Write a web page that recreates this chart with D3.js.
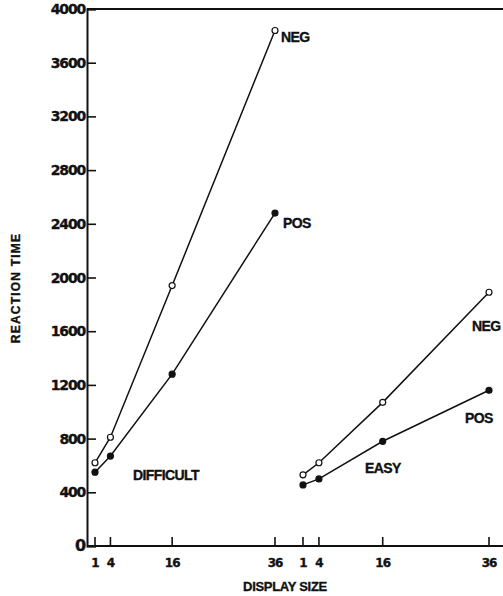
<!DOCTYPE html>
<html>
<head>
<meta charset="utf-8">
<script src="https://cdn.jsdelivr.net/npm/d3@7"></script>
<style>
  body { margin: 0; background: #fff; }
  text { fill: #111; font-weight: bold; stroke: #111; stroke-width: 0.35; }
</style>
</head>
<body>
<div id="chart"></div>
<script>
// display sizes (same for both groups)
const displaySizes = [1, 4, 16, 36];
const yTicks = [0, 400, 800, 1200, 1600, 2000, 2400, 2800, 3200, 3600, 4000];

// reaction times
const difficultNeg = [620, 810, 1940, 3840];
const difficultPos = [550, 670, 1280, 2480];
const easyNeg = [530, 620, 1070, 1890];
const easyPos = [455, 500, 780, 1160];

const width = 503, height = 596;
const plotLeft = 87, plotRight = 503, plotTop = 9, plotBottom = 546;

const svg = d3.select("#chart").append("svg")
    .attr("width", width)
    .attr("height", height);

const y = d3.scaleLinear().domain([0, 4000]).range([plotBottom, plotTop]);
const xDifficult = d3.scaleLinear().domain([1, 36]).range([95, 275]);
const xEasy = d3.scaleLinear().domain([1, 36]).range([303, 489]);

// frame: top line, left axis, bottom axis
svg.append("line")
    .attr("x1", plotLeft).attr("x2", plotRight)
    .attr("y1", plotTop).attr("y2", plotTop)
    .attr("stroke", "#111").attr("stroke-width", 2);

// y axis
const yAxis = svg.append("g")
    .attr("transform", "translate(" + plotLeft + ",0)")
    .call(d3.axisRight(y).tickValues(yTicks).tickSize(9).tickFormat(""));
yAxis.select(".domain").attr("stroke", "#111").attr("stroke-width", 2);
yAxis.selectAll(".tick line").attr("stroke", "#111").attr("stroke-width", 1.6);

svg.append("g").selectAll("text")
    .data(yTicks)
    .join("text")
    .attr("x", plotLeft - 2)
    .attr("y", d => y(d) + 5)
    .attr("text-anchor", "end")
    .attr("font-family", "DejaVu Sans")
    .attr("font-size", d => d === 0 ? 16 : 14)
    .attr("letter-spacing", -1.2)
    .text(d => d);

// x axis line
svg.append("line")
    .attr("x1", plotLeft).attr("x2", plotRight)
    .attr("y1", plotBottom).attr("y2", plotBottom)
    .attr("stroke", "#111").attr("stroke-width", 2);

function drawTicks(scale) {
    const g = svg.append("g");
    g.selectAll("line")
        .data(displaySizes)
        .join("line")
        .attr("x1", d => scale(d)).attr("x2", d => scale(d))
        .attr("y1", plotBottom).attr("y2", plotBottom - 9)
        .attr("stroke", "#111").attr("stroke-width", 1.6);
    g.selectAll("text")
        .data(displaySizes)
        .join("text")
        .attr("x", d => scale(d))
        .attr("y", plotBottom + 21)
        .attr("text-anchor", "middle")
        .attr("font-family", "DejaVu Sans")
        .attr("font-size", 12)
        .attr("letter-spacing", -1)
        .text(d => d);
}
drawTicks(xDifficult);
drawTicks(xEasy);

function drawSeries(scale, values, filled) {
    const pts = displaySizes.map((d, i) => [scale(d), y(values[i])]);
    svg.append("path")
        .attr("d", d3.line()(pts))
        .attr("fill", "none")
        .attr("stroke", "#111")
        .attr("stroke-width", 1.5);
    svg.append("g").selectAll("circle")
        .data(pts)
        .join("circle")
        .attr("cx", d => d[0])
        .attr("cy", d => d[1])
        .attr("r", 3)
        .attr("fill", filled ? "#111" : "#fff")
        .attr("stroke", "#111")
        .attr("stroke-width", 1.2);
}
drawSeries(xDifficult, difficultNeg, false);
drawSeries(xDifficult, difficultPos, true);
drawSeries(xEasy, easyNeg, false);
drawSeries(xEasy, easyPos, true);

function label(txt, x, yy, size) {
    svg.append("text")
        .attr("x", x).attr("y", yy)
        .attr("font-family", "Liberation Sans")
        .attr("font-size", size || 14)
        .attr("letter-spacing", -0.6)
        .text(txt);
}
label("NEG", 281, 42);
label("POS", 283, 228);
label("DIFFICULT", 133, 480);
label("EASY", 365, 473);
label("NEG", 472, 331);
label("POS", 465, 423);

// axis titles
svg.append("text")
    .attr("transform", "translate(20,288) rotate(-90)")
    .attr("text-anchor", "middle")
    .attr("font-family", "Liberation Sans")
    .attr("font-size", 12)
    .attr("letter-spacing", 1.2)
    .text("REACTION TIME");

svg.append("text")
    .attr("x", 285).attr("y", 591)
    .attr("text-anchor", "middle")
    .attr("font-family", "Liberation Sans")
    .attr("font-size", 13)
    .attr("letter-spacing", -0.3)
    .text("DISPLAY SIZE");
</script>
</body>
</html>
